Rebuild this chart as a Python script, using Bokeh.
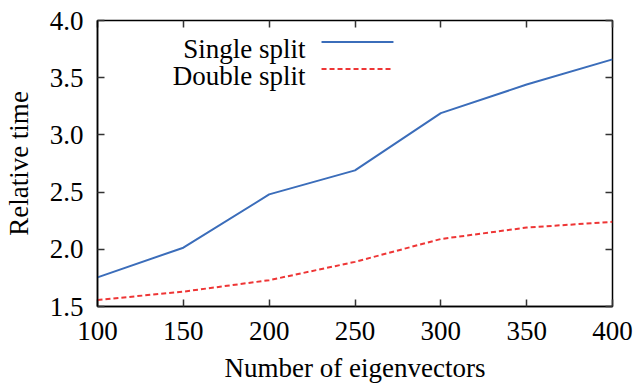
from bokeh.plotting import figure
from bokeh.models import LinearAxis, FixedTicker, Range1d, Label, NumeralTickFormatter
from bokeh.embed import file_html
from bokeh.resources import INLINE

# Data
eigenvectors = [100, 150, 200, 250, 300, 350, 400]
single_split = [1.755, 2.014, 2.48, 2.69, 3.19, 3.44, 3.66]
double_split = [1.557, 1.63, 1.73, 1.89, 2.09, 2.19, 2.24]
x_ticks = [100, 150, 200, 250, 300, 350, 400]
y_ticks = [1.5, 2.0, 2.5, 3.0, 3.5, 4.0]
series_labels = ["Single split", "Double split"]
x_label = "Number of eigenvectors"
y_label = "Relative time"

BLUE = "#3b6dba"
RED = "#ee3535"
FONT = "Liberation Serif"
FS = "27px"
DASH = "5 3"

p = figure(frame_width=515, frame_height=286, output_backend="svg", toolbar_location=None,
           x_range=Range1d(100, 400), y_range=Range1d(1.5, 4.0),
           min_border_left=96, min_border_right=26, min_border_top=20, min_border_bottom=78)
p.background_fill_color = "white"
p.border_fill_color = "white"
p.outline_line_color = "black"
p.outline_line_width = 1.5
p.grid.visible = False

def style_axis(ax):
    ax.major_tick_in = 7
    ax.major_tick_out = 0
    ax.minor_tick_line_color = None
    ax.major_tick_line_color = "#333333"
    ax.major_tick_line_width = 1.5
    ax.axis_line_color = "black"
    ax.axis_line_width = 1.5
    ax.major_label_text_font = FONT
    ax.major_label_text_font_size = FS
    ax.major_label_text_color = "black"
    ax.axis_label_text_font = FONT
    ax.axis_label_text_font_size = FS
    ax.axis_label_text_font_style = "normal"
    ax.axis_label_text_color = "black"

xa = p.xaxis[0]
ya = p.yaxis[0]
xa.ticker = FixedTicker(ticks=x_ticks)
ya.ticker = FixedTicker(ticks=y_ticks)
ya.formatter = NumeralTickFormatter(format="0.0")
style_axis(xa)
style_axis(ya)
xa.axis_label = x_label
ya.axis_label = y_label
xa.major_label_standoff = 15
xa.axis_label_standoff = 10
ya.major_label_standoff = 14
ya.axis_label_standoff = 13

top = LinearAxis(ticker=FixedTicker(ticks=x_ticks),
                 major_label_overrides={t: "" for t in x_ticks})
right = LinearAxis(ticker=FixedTicker(ticks=y_ticks),
                   major_label_overrides={t: "" for t in y_ticks})
for ax in (top, right):
    style_axis(ax)
    ax.axis_line_color = None
    ax.major_label_text_font_size = "1px"
p.add_layout(top, "above")
p.add_layout(right, "right")

p.line(eigenvectors, single_split, line_color=BLUE, line_width=2)
p.line(eigenvectors, double_split, line_color=RED, line_width=2, line_dash=DASH)

# Legend (gnuplot style: text right-aligned, then sample line)
legend_text_x = 221.2
legend_line_x = [230.5, 272.4]
legend_text_y = [3.748, 3.515]
legend_line_y = [3.812, 3.576]
colors = [BLUE, RED]
dashes = ["solid", DASH]
for lab, ty, ly, c, d in zip(series_labels, legend_text_y, legend_line_y, colors, dashes):
    p.add_layout(Label(x=legend_text_x, y=ty, text=lab, text_align="right",
                       text_baseline="alphabetic", text_font=FONT, text_font_size=FS,
                       text_color="black"))
    p.line(legend_line_x, [ly, ly], line_color=c, line_width=2, line_dash=d)

open("out.html", "w").write(file_html(p, INLINE))
